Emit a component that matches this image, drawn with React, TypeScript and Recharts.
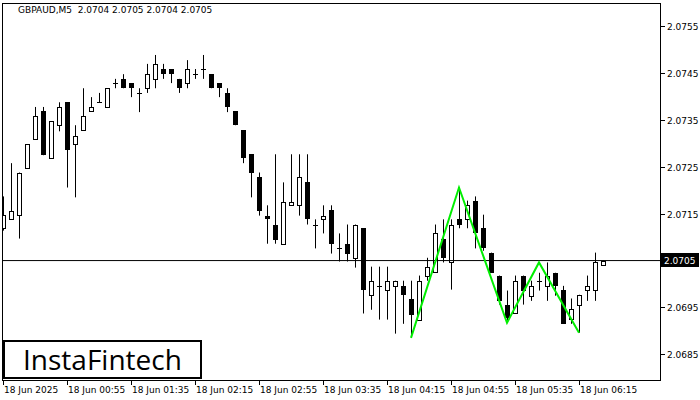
import { ComposedChart, Bar, Line, XAxis, YAxis, ReferenceLine } from "recharts";

const opens = [
  2.07119, 2.07138, 2.07148, 2.07247, 2.07309, 2.07369, 2.07268, 2.07339, 2.07388, 2.07298,
  2.07328, 2.07369, 2.07388, 2.07378, 2.07429, 2.07438, 2.07429, 2.07408, 2.07418, 2.07438,
  2.07459, 2.07459, 2.07438, 2.07429, 2.07448, 2.07459, 2.07448, 2.07429, 2.07408, 2.07369,
  2.07328, 2.07277, 2.07228, 2.07146, 2.07127, 2.07086, 2.07168, 2.07168, 2.07217, 2.07127,
  2.07138, 2.07157, 2.07076, 2.07086, 2.07056, 2.07119, 2.06977, 2.06996, 2.06988, 2.06996,
  2.06996, 2.06967, 2.06924, 2.07018, 2.07026, 2.07097, 2.07048, 2.07138, 2.07138, 2.07178,
  2.07119, 2.07067, 2.07018, 2.06956, 2.06937, 2.07018, 2.06975, 2.07007, 2.06996, 2.07024,
  2.06988, 2.06926, 2.06956, 2.06988, 2.06988, 2.0704,
];
const highs = [
  2.07187, 2.07258, 2.07238, 2.07298, 2.07378, 2.07378, 2.07348, 2.07388, 2.07388, 2.07339,
  2.07418, 2.07399, 2.07408, 2.07418, 2.07438, 2.07448, 2.07429, 2.07418, 2.0747, 2.07489,
  2.0747, 2.07459, 2.07438, 2.07478, 2.07459, 2.07489, 2.07448, 2.07429, 2.07418, 2.07369,
  2.07328, 2.07277, 2.07238, 2.07168, 2.07277, 2.07217, 2.07277, 2.07277, 2.07277, 2.07138,
  2.07168, 2.07168, 2.07108, 2.07127, 2.07127, 2.07119, 2.07037, 2.07037, 2.07037, 2.07007,
  2.07007, 2.07007, 2.07018, 2.07056, 2.07127, 2.07138, 2.07138, 2.07206, 2.07178, 2.07187,
  2.07148, 2.07067, 2.07018, 2.06986, 2.07018, 2.07018, 2.07007, 2.07024, 2.07046, 2.07024,
  2.06996, 2.06969, 2.06977, 2.07018, 2.07067, 2.0705,
];
const lows = [
  2.07114, 2.07138, 2.07097, 2.07247, 2.07309, 2.07275, 2.07268, 2.07326, 2.07206, 2.07185,
  2.07328, 2.07369, 2.07388, 2.07378, 2.07418, 2.07418, 2.07399, 2.07367, 2.07408, 2.07418,
  2.07438, 2.07429, 2.07408, 2.07418, 2.07438, 2.07438, 2.07418, 2.07399, 2.07367, 2.07339,
  2.07258, 2.07185, 2.07146, 2.07086, 2.07086, 2.07086, 2.07168, 2.07146, 2.07127, 2.07076,
  2.07108, 2.07065, 2.07048, 2.07048, 2.07035, 2.06937, 2.06945, 2.06924, 2.06924, 2.06894,
  2.06915, 2.06885, 2.06924, 2.07007, 2.07026, 2.07046, 2.06988, 2.07119, 2.07119, 2.07076,
  2.07071, 2.07024, 2.06956, 2.06922, 2.06937, 2.06956, 2.06964, 2.06986, 2.06964, 2.06975,
  2.06915, 2.06915, 2.06896, 2.06964, 2.06964, 2.0704,
];
const closes = [
  2.07148, 2.07155, 2.07238, 2.07298, 2.07358, 2.07275, 2.07348, 2.07378, 2.07286, 2.07316,
  2.07358, 2.07378, 2.07388, 2.07418, 2.07429, 2.07418, 2.07418, 2.07408, 2.07448, 2.0747,
  2.07448, 2.07448, 2.07418, 2.07459, 2.07448, 2.07459, 2.07418, 2.07418, 2.07378, 2.07339,
  2.07268, 2.07238, 2.07155, 2.07138, 2.07095, 2.07176, 2.07176, 2.07228, 2.07138, 2.07127,
  2.07146, 2.07086, 2.07076, 2.07065, 2.07127, 2.06988, 2.07007, 2.06996, 2.07007, 2.07007,
  2.06977, 2.06934, 2.07007, 2.07037, 2.07108, 2.07056, 2.07127, 2.07127, 2.07168, 2.07108,
  2.07076, 2.07024, 2.06964, 2.06928, 2.07007, 2.06986, 2.06996, 2.07007, 2.07018, 2.06996,
  2.06915, 2.06947, 2.06977, 2.06996, 2.07046, 2.0705,
];

// pattern line drawn by the indicator
const patternIdx = [51, 57, 63, 67, 72];
const patternVals = [2.06885, 2.07206, 2.06917, 2.07046, 2.06896];

const tickIdx = [0, 8, 16, 24, 32, 40, 48, 56, 64, 72];
const tickLabels = [
  "18 Jun 2025", "18 Jun 00:55", "18 Jun 01:35", "18 Jun 02:15", "18 Jun 02:55",
  "18 Jun 03:35", "18 Jun 04:15", "18 Jun 04:55", "18 Jun 05:35", "18 Jun 06:15",
];
const priceTicks = [2.0685, 2.0695, 2.0715, 2.0725, 2.0735, 2.0745, 2.0755];
const lastPrice = 2.0705;

const data = opens.map((o, i) => {
  const p = patternIdx.indexOf(i);
  return {
    i,
    open: o,
    high: highs[i],
    low: lows[i],
    close: closes[i],
    range: [lows[i], highs[i]],
    pat: p >= 0 ? patternVals[p] : null,
  };
});

const FONT = "DejaVu Sans";

const Candle = (props: any) => {
  const { x, y, width, height, payload } = props;
  const { open, close, high, low } = payload;
  const cx = Math.round(x + width / 2);
  const top = Math.min(y, y + height);
  const h = Math.abs(height);
  const py = (p: number) => top + ((high - p) / (high - low || 1)) * h;
  const yo = Math.round(py(open));
  const yc = Math.round(py(close));
  return (
    <g>
      <line x1={cx + 0.5} x2={cx + 0.5} y1={py(high)} y2={py(low)} stroke="#000" strokeWidth={1} />
      {close > open ? (
        <rect x={cx - 1.5} y={yc + 0.5} width={4} height={Math.max(yo - yc, 1)} fill="#fff" stroke="#000" strokeWidth={1} />
      ) : close < open ? (
        <rect x={cx - 2} y={yo} width={5} height={Math.max(yc - yo, 1)} fill="#000" />
      ) : (
        <line x1={cx - 2} x2={cx + 3} y1={yo + 0.5} y2={yo + 0.5} stroke="#000" strokeWidth={1} />
      )}
    </g>
  );
};

const TimeTick = ({ x, payload }: any) => {
  const k = tickIdx.indexOf(payload.value);
  const px = Math.round(x);
  return (
    <g>
      <line x1={px + 0.5} x2={px + 0.5} y1={380} y2={385} stroke="#000" />
      <text x={px + 1} y={393} fontSize={9} fontFamily={FONT} fill="#000">
        {tickLabels[k]}
      </text>
    </g>
  );
};

const PriceTick = ({ y, payload }: any) => {
  const py = Math.round(y);
  return (
    <g>
      <line x1={660} x2={665} y1={py + 0.5} y2={py + 0.5} stroke="#000" />
      <text x={667} y={py + 4} fontSize={9} fontFamily={FONT} fill="#000">
        {payload.value.toFixed(4)}
      </text>
    </g>
  );
};

const PriceTag = (props: any) => {
  const vy = Math.floor(props.viewBox.y);
  return (
    <g>
      <rect x={661} y={vy - 7} width={38} height={14} fill="#000" />
      <text x={664} y={vy + 4} fontSize={9} fontFamily={FONT} fill="#fff">
        {lastPrice.toFixed(4)}
      </text>
    </g>
  );
};

export default function App() {
  return (
    <div style={{ position: "relative", width: 700, height: 400, background: "#fff" }}>
      <style>{"body{margin:0}"}</style>
      <ComposedChart width={700} height={400} data={data} margin={{ top: 3, right: 0, bottom: 0, left: 2 }}>
        <XAxis
          dataKey="i"
          type="number"
          domain={[-0.125, 82.125]}
          ticks={tickIdx}
          interval={0}
          tick={<TimeTick />}
          tickLine={false}
          axisLine={false}
          height={20}
          allowDataOverflow
        />
        <YAxis
          orientation="right"
          type="number"
          domain={[2.06795, 2.076]}
          ticks={priceTicks}
          interval={0}
          tick={<PriceTick />}
          tickLine={false}
          axisLine={false}
          width={40}
          allowDataOverflow
        />
        <ReferenceLine y={lastPrice} stroke="#000" strokeWidth={1} label={(p: any) => <PriceTag {...p} />} />
        <Bar dataKey="range" barSize={5} shape={<Candle />} isAnimationActive={false} />
        <Line
          dataKey="pat"
          type="linear"
          stroke="#00ee00"
          strokeWidth={2}
          dot={false}
          connectNulls
          isAnimationActive={false}
        />
      </ComposedChart>
      <div
        style={{
          position: "absolute", left: 2, top: 3, width: 659, height: 378,
          border: "1px solid #000", boxSizing: "border-box", pointerEvents: "none",
        }}
      />
      <div style={{ position: "absolute", left: 18, top: 5, fontSize: 9, fontFamily: FONT, color: "#000", whiteSpace: "pre" }}>
        {"GBPAUD,M5  2.0704 2.0705 2.0704 2.0705"}
      </div>
      <div
        style={{
          position: "absolute", left: 3, top: 340, width: 199, height: 39,
          border: "2px solid #000", boxSizing: "border-box", background: "#fff",
          fontFamily: "Open Sans", fontSize: 28, lineHeight: "35px", paddingLeft: 18, color: "#000",
        }}
      >
        InstaFintech
      </div>
    </div>
  );
}
